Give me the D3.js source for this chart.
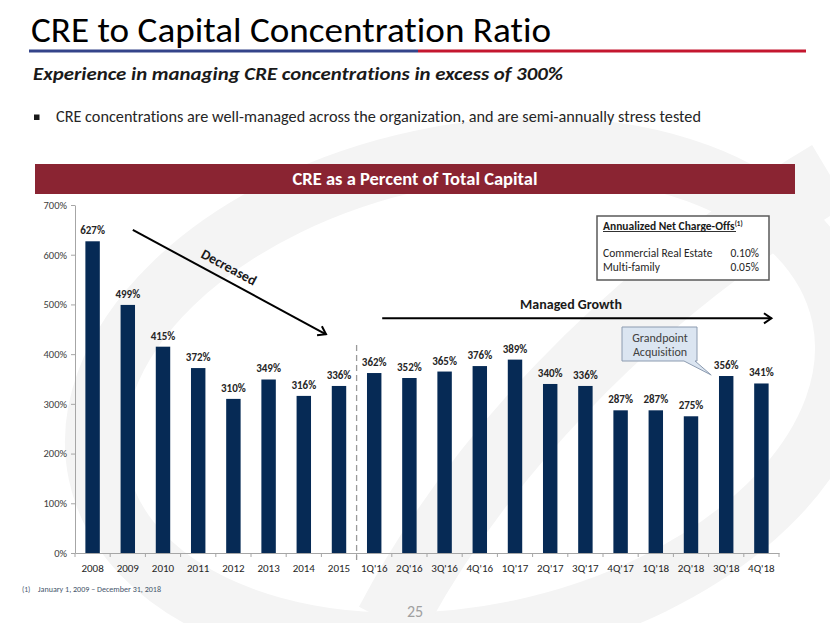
<!DOCTYPE html>
<html><head><meta charset="utf-8">
<script src="https://cdn.jsdelivr.net/npm/d3@7"></script>
<style>body{margin:0;background:#fff} svg{display:block} text{font-variant-ligatures:none;font-feature-settings:"liga" 0,"clig" 0;}</style>
</head><body>
<svg id="c" width="830" height="623"></svg>
<script>
// ---------------- DATA ----------------
const categories = ["2008","2009","2010","2011","2012","2013","2014","2015","1Q'16","2Q'16","3Q'16","4Q'16","1Q'17","2Q'17","3Q'17","4Q'17","1Q'18","2Q'18","3Q'18","4Q'18"];
const values = [627,499,415,372,310,349,316,336,362,352,365,376,389,340,336,287,287,275,356,341];
const yTickValues = [0,100,200,300,400,500,600,700];
const chargeOffLabels = ["Commercial Real Estate","Multi-family"];
const chargeOffValues = ["0.10%","0.05%"];

// ---------------- SETUP ----------------
const FONT = "Carlito, Calibri, Lato, 'Open Sans', sans-serif";
const svg = d3.select("#c").style("font-family", FONT);

// faint watermark
const wm = svg.append("g").attr("fill","none").attr("stroke","#f4f4f4");
wm.append("ellipse").attr("cx",470).attr("cy",395).attr("rx",380).attr("ry",240)
  .attr("stroke-width",60).attr("transform","rotate(-12 470 395)");
wm.append("path").attr("d","M390,623 C470,470 620,300 830,175").attr("stroke-width",70);

// Title
svg.append("text").attr("x",31).attr("y",42).attr("font-size",34).attr("fill","#000")
  .attr("textLength",520).attr("lengthAdjust","spacingAndGlyphs")
  .text("CRE to Capital Concentration Ratio");
svg.append("line").attr("x1",29).attr("x2",418).attr("y1",51).attr("y2",51).attr("stroke","#34448a").attr("stroke-width",3);
svg.append("line").attr("x1",418).attr("x2",806).attr("y1",51).attr("y2",51).attr("stroke","#c4172f").attr("stroke-width",3);

svg.append("text").attr("x",33).attr("y",80).attr("font-size",19).attr("font-weight","bold")
  .attr("font-style","italic").attr("fill","#1a1a1a")
  .attr("textLength",530).attr("lengthAdjust","spacingAndGlyphs")
  .text("Experience in managing CRE concentrations in excess of 300%");

svg.append("rect").attr("x",34).attr("y",114.5).attr("width",5.5).attr("height",5.5).attr("fill","#1a1a1a");
svg.append("text").attr("x",56).attr("y",122).attr("font-size",15.5).attr("fill","#262626")
  .attr("textLength",645).attr("lengthAdjust","spacingAndGlyphs")
  .text("CRE concentrations are well-managed across the organization, and are semi-annually stress tested");

// Banner
svg.append("rect").attr("x",35).attr("y",164).attr("width",760).attr("height",30).attr("fill","#8a2432");
svg.append("text").attr("x",415).attr("y",185).attr("text-anchor","middle").attr("font-size",18.5)
  .attr("font-weight","bold").attr("fill","#fff")
  .attr("textLength",245).attr("lengthAdjust","spacingAndGlyphs")
  .text("CRE as a Percent of Total Capital");

// ---------------- CHART ----------------
const x = d3.scaleBand().domain(categories).range([75,779]).paddingInner(0.59).paddingOuter(0.295);
const y = d3.scaleLinear().domain([0,700]).range([553,205]);

// y axis
const yAx = svg.append("g").attr("transform","translate(75,0)")
  .call(d3.axisLeft(y).tickValues(yTickValues).tickFormat(d=>d+"%").tickSize(4).tickSizeOuter(0));
yAx.select(".domain").attr("stroke","#a6a6a6");
yAx.selectAll(".tick line").attr("stroke","#a6a6a6");
yAx.selectAll(".tick text").attr("font-family",FONT).attr("font-size",10.5).attr("fill","#404040").attr("x",-8);

// x axis
const xAx = svg.append("g").attr("transform","translate(0,553)")
  .call(d3.axisBottom(x).tickSize(0).tickSizeOuter(0));
xAx.select(".domain").attr("stroke","#a6a6a6");
xAx.selectAll(".tick text").attr("font-family",FONT).attr("font-size",11).attr("fill","#262626").attr("dy","1.05em").attr("y",7);
// separator ticks at band boundaries
const bounds = d3.range(categories.length+1).map(i => x.range()[0] + i*x.step());
svg.append("g").selectAll("line").data(bounds).join("line")
  .attr("x1",d=>d).attr("x2",d=>d).attr("y1",553).attr("y2",557).attr("stroke","#a6a6a6");

// dashed divider between annual and quarterly
const divX = x.range()[0] + 8*x.step();
svg.append("line").attr("x1",divX).attr("x2",divX).attr("y1",345).attr("y2",560)
  .attr("stroke","#9a9a9a").attr("stroke-width",1.3).attr("stroke-dasharray","6,4");

// bars
svg.append("g").selectAll("rect").data(values).join("rect")
  .attr("x",(d,i)=>x(categories[i])).attr("width",x.bandwidth())
  .attr("y",d=>y(d)).attr("height",d=>y(0)-y(d)).attr("fill","#062a55");

// value labels
svg.append("g").selectAll("text").data(values).join("text")
  .attr("x",(d,i)=>x(categories[i])+x.bandwidth()/2).attr("y",d=>y(d)-7)
  .attr("text-anchor","middle").attr("font-size",11).attr("font-weight","bold").attr("fill","#262626")
  .text(d=>d+"%");

// ---------------- ANNOTATIONS ----------------
function arrow(x1,y1,x2,y2){
  const g = svg.append("g").attr("stroke","#000").attr("stroke-width",2).attr("fill","none");
  g.append("line").attr("x1",x1).attr("y1",y1).attr("x2",x2).attr("y2",y2);
  const a = Math.atan2(y2-y1,x2-x1), L=9, W=0.6;
  const p1=[x2-L*Math.cos(a-W), y2-L*Math.sin(a-W)], p2=[x2-L*Math.cos(a+W), y2-L*Math.sin(a+W)];
  g.append("polyline").attr("points",[p1,[x2,y2],p2].map(p=>p.join(",")).join(" ")).attr("stroke-linejoin","miter");
}
const c = i => x(categories[i]) + x.bandwidth()/2;
// Decreased
const dx1 = c(1)+5, dy1 = y(650), dx2 = c(7)-13, dy2 = y(440);
arrow(dx1,dy1,dx2,dy2);
const ang = Math.atan2(dy2-dy1,dx2-dx1)*180/Math.PI;
svg.append("text").attr("transform",`translate(229,267) rotate(${ang})`).attr("text-anchor","middle")
  .attr("dy","0.35em").attr("font-size",14).attr("font-weight","bold").attr("fill","#1a1a1a").text("Decreased");
// Managed growth
arrow(c(8)+8, y(472), c(19)+10, y(472));
svg.append("text").attr("x",571).attr("y",309).attr("text-anchor","middle").attr("font-size",14)
  .attr("font-weight","bold").attr("fill","#1a1a1a").text("Managed Growth");

// Charge-off box
svg.append("rect").attr("x",597).attr("y",216).attr("width",172).attr("height",64)
  .attr("fill","#fff").attr("stroke","#595959").attr("stroke-width",1.5);
const t = svg.append("text").attr("x",603).attr("y",229.5).attr("font-size",11.5).attr("font-weight","bold").attr("fill","#1a1a1a");
t.append("tspan").text("Annualized Net Charge-Offs");
t.append("tspan").attr("font-size",7).attr("dy",-4).text("(1)");
svg.append("line").attr("x1",603).attr("x2",736).attr("y1",231.5).attr("y2",231.5).attr("stroke","#1a1a1a").attr("stroke-width",0.9);
svg.append("g").selectAll("text").data(chargeOffLabels).join("text")
  .attr("x",603).attr("y",(d,i)=>257+i*14).attr("font-size",11.5).attr("fill","#262626").text(d=>d);
svg.append("g").selectAll("text").data(chargeOffValues).join("text")
  .attr("x",759).attr("y",(d,i)=>257+i*14).attr("text-anchor","end").attr("font-size",11.5).attr("fill","#262626").text(d=>d);

// Callout
const tipX = c(18)-15, tipY = y(356)-1;
svg.append("path").attr("d",`M622,327 H697 V361 H695 L${tipX},${tipY} L684,361 H622 Z`)
  .attr("fill","#dbe5f1").attr("stroke","#8c9bb0").attr("stroke-width",1);
svg.append("text").attr("x",660).attr("y",341.5).attr("text-anchor","middle").attr("font-size",12).attr("fill","#404040").text("Grandpoint");
svg.append("text").attr("x",660).attr("y",355.5).attr("text-anchor","middle").attr("font-size",12).attr("fill","#404040").text("Acquisition");

// Footnote & page number
svg.append("text").attr("x",22).attr("y",592).attr("font-size",7.5).attr("fill","#44546a").text("(1)");
svg.append("text").attr("x",38).attr("y",592).attr("font-size",7.5).attr("fill","#44546a")
  .attr("textLength",123).attr("lengthAdjust","spacingAndGlyphs").text("January 1, 2009 – December 31, 2018");
svg.append("text").attr("x",415).attr("y",617).attr("text-anchor","middle").attr("font-size",16).attr("fill","#a0a0a0").text("25");
</script>
</body></html>
